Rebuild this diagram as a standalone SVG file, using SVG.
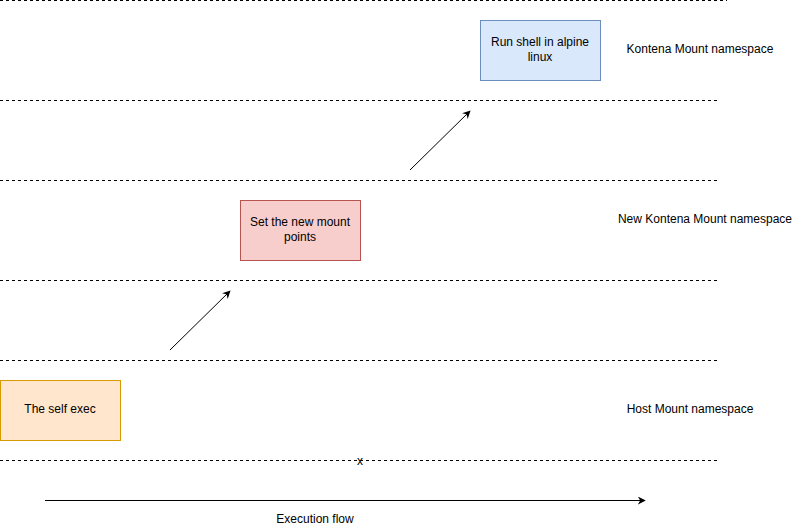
<svg xmlns="http://www.w3.org/2000/svg" width="801" height="531" viewBox="0 0 801 531">
<defs>
<style>
.sep{stroke:#000;stroke-width:1;stroke-dasharray:3 3;fill:none}
.arr{stroke:#000;stroke-width:1;fill:none}
text{font-family:"Liberation Sans",Arial,sans-serif;font-size:12px;fill:#000}
</style>
<marker id="ah" viewBox="0 0 10 10" refX="9" refY="5" markerWidth="8" markerHeight="8" markerUnits="userSpaceOnUse" orient="auto">
<path d="M0,0 L10,5 L0,10 L3,5 Z" fill="#000"/>
</marker>
</defs>
<rect width="801" height="531" fill="#fff"/>
<g id="separators">
<line class="sep" x1="0" y1="0.5" x2="727" y2="0.5"/>
<line class="sep" x1="0" y1="100.5" x2="718" y2="100.5"/>
<line class="sep" x1="0" y1="180.5" x2="718" y2="180.5"/>
<line class="sep" x1="0" y1="280.5" x2="718" y2="280.5"/>
<line class="sep" x1="0" y1="360.5" x2="718" y2="360.5"/>
<line class="sep" x1="0" y1="460.5" x2="718" y2="460.5"/>
<text x="360" y="465" text-anchor="middle" font-size="10">x</text>
</g>
<g id="connectors">
<line class="arr" x1="170" y1="350" x2="230" y2="291" marker-end="url(#ah)"/>
<line class="arr" x1="410" y1="170" x2="470" y2="111" marker-end="url(#ah)"/>
<line class="arr" x1="45" y1="500.5" x2="645" y2="500.5" marker-end="url(#ah)"/>
</g>
<g id="node-self-exec">
<rect x="0.5" y="380.5" width="120" height="60" fill="#ffe6cc" stroke="#d79b00"/>
<text x="60" y="413" text-anchor="middle">The self exec</text>
</g>
<g id="node-mount-points">
<rect x="240.5" y="200.5" width="120" height="60" fill="#f8cecc" stroke="#b85450"/>
<text x="300" y="226" text-anchor="middle">Set the new mount</text>
<text x="300" y="241" text-anchor="middle">points</text>
</g>
<g id="node-alpine">
<rect x="480.5" y="20.5" width="120" height="60" fill="#dae8fc" stroke="#6c8ebf"/>
<text x="540" y="46" text-anchor="middle">Run shell in alpine</text>
<text x="540" y="61" text-anchor="middle">linux</text>
</g>
<g id="labels">
<text x="700" y="53" text-anchor="middle">Kontena Mount namespace</text>
<text x="705" y="223" text-anchor="middle">New Kontena Mount namespace</text>
<text x="690" y="413" text-anchor="middle">Host Mount namespace</text>
<text x="315" y="523" text-anchor="middle">Execution flow</text>
</g>
</svg>
